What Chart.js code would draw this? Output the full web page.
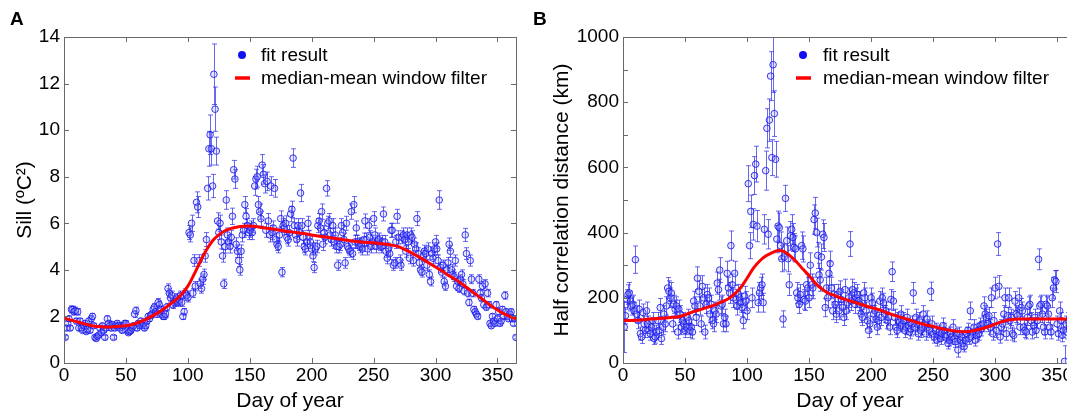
<!DOCTYPE html>
<html>
<head>
<meta charset="utf-8">
<script src="https://cdn.jsdelivr.net/npm/chart.js@4.4.0/dist/chart.umd.min.js"></script>
<style>
  html, body { margin: 0; padding: 0; background: #fff; overflow: hidden; width: 1067px; height: 412px; }
  .panel { position: absolute; top: 0; height: 412px; }
  #panelA { left: 0; width: 530px; }
  #panelB { left: 530px; width: 560px; }
  .tag { position: absolute; top: 8px; font: bold 19px "Liberation Sans", Arial, sans-serif; color: #000; }
</style>
</head>
<body>
<div class="panel" id="panelA"><canvas id="chartA" width="530" height="412"></canvas></div>
<div class="panel" id="panelB"><canvas id="chartB" width="560" height="412"></canvas></div>
<div class="tag" style="left:10px">A</div>
<div class="tag" style="left:533px">B</div>
<script>
// Panel A: sill (°C²), one fit per day of year (day 1..365)
const sillA = [
  1.1,1.5,1.7,1.9,1.5,2.3,2.3,2.2,2.25,1.8,
  2.2,1.5,1.8,1.5,1.4,1.6,1.7,1.35,1.45,1.8,
  1.4,1.9,2.0,1.6,1.1,1.05,1.15,1.2,1.5,1.3,
  1.6,1.4,1.1,1.5,1.9,1.7,1.6,1.5,1.65,1.1,
  1.5,1.6,1.7,1.6,1.5,1.6,1.4,1.6,1.7,1.7,
  1.4,1.3,1.35,1.4,1.5,1.6,2.1,2.25,1.5,1.7,
  1.6,1.8,1.6,1.7,1.5,1.6,1.8,2.0,1.9,2.05,
  2.1,2.3,2.4,2.2,2.1,2.6,2.5,2.3,2.1,2.0,
  2.0,2.1,2.4,3.2,3.0,2.8,2.9,2.5,2.6,2.7,
  2.8,2.6,2.7,2.9,2.6,2.0,2.2,3.0,2.9,2.8,
  5.6,5.5,6.0,3.0,4.4,3.3,6.9,6.7,4.4,3.4,
  3.2,3.6,3.8,4.6,5.3,7.5,9.2,9.8,9.2,7.6,
  12.4,10.9,9.1,6.1,5.6,6.0,5.2,4.6,3.4,5.0,
  7.0,5.5,5.2,5.0,5.4,6.3,8.3,7.9,5.1,4.8,
  4.4,4.0,4.8,5.5,5.7,6.8,6.3,5.9,5.6,5.7,
  5.8,5.6,5.9,7.6,7.9,8.0,6.8,6.5,6.2,8.5,
  8.1,7.7,5.7,7.8,6.1,5.5,7.6,5.6,5.8,7.5,
  5.3,5.1,5.0,5.5,6.2,3.9,5.9,5.8,6.0,5.4,
  5.3,5.6,6.4,6.6,8.8,5.9,5.5,5.3,5.9,5.6,
  7.3,5.9,5.4,5.0,4.9,5.2,6.0,5.4,5.2,4.9,
  4.6,4.1,4.9,5.0,5.9,6.1,5.8,6.5,5.1,5.6,
  5.4,7.5,6.0,6.1,5.5,5.3,5.9,5.2,5.5,5.0,
  4.2,5.0,5.1,5.9,5.6,5.3,4.3,6.0,5.0,4.9,
  4.8,6.5,4.7,6.8,5.2,5.8,5.2,5.1,5.0,5.1,
  4.9,5.3,6.1,5.3,4.9,5.9,5.4,5.0,5.2,6.2,
  5.5,5.0,5.2,5.3,5.1,5.0,5.2,6.4,5.2,4.8,
  4.5,4.9,4.7,5.7,5.7,4.2,4.3,5.2,6.3,5.4,
  4.4,4.2,5.4,5.5,5.3,4.8,5.5,5.2,4.5,5.5,
  5.4,4.4,5.1,4.9,6.2,4.7,4.3,4.0,3.9,4.6,
  4.8,4.7,4.2,4.9,3.8,3.5,4.7,4.5,4.9,5.2,
  4.9,4.4,7.0,4.1,3.9,4.2,3.5,3.3,4.0,4.3,
  5.1,4.8,4.0,3.8,3.7,4.4,3.3,3.5,3.2,3.6,
  3.8,3.4,3.1,5.5,4.7,3.0,2.6,4.4,3.6,3.0,
  2.3,2.2,2.1,2.0,3.6,3.0,2.8,3.3,2.5,3.4,
  2.4,3.0,2.5,1.7,1.6,2.0,1.8,1.7,2.5,1.9,
  2.2,1.7,1.8,2.3,2.0,2.9,2.2,2.0,1.9,2.1,
  2.2,1.9,1.7,1.9,1.1
];
const sillErrA = [
  .08,.1,.1,.12,.1,.15,.14,.14,.15,.12,
  .14,.1,.12,.1,.09,.1,.11,.09,.1,.12,
  .09,.12,.13,.1,.08,.07,.08,.08,.1,.09,
  .1,.09,.08,.1,.12,.11,.1,.1,.11,.08,
  .1,.1,.11,.1,.1,.1,.09,.1,.11,.11,
  .09,.09,.09,.09,.1,.1,.14,.15,.1,.11,
  .1,.12,.1,.11,.1,.1,.12,.13,.12,.13,
  .14,.15,.16,.14,.14,.17,.16,.15,.14,.13,
  .13,.14,.16,.2,.19,.18,.19,.16,.17,.18,
  .18,.17,.18,.19,.17,.13,.14,.19,.19,.18,
  .3,.3,.35,.19,.25,.2,.45,.45,.25,.2,
  .2,.22,.23,.27,.3,.5,.75,.85,.7,.5,
  1.3,.95,.6,.35,.3,.35,.3,.27,.2,.28,
  .4,.3,.28,.28,.3,.35,.4,.4,.28,.27,
  .25,.23,.27,.3,.3,.35,.33,.3,.3,.3,
  .3,.3,.3,.4,.42,.45,.35,.33,.32,.45,
  .42,.4,.3,.4,.32,.3,.4,.3,.3,.38,
  .28,.27,.27,.3,.33,.2,.3,.3,.32,.28,
  .28,.3,.33,.35,.4,.3,.3,.28,.3,.3,
  .37,.3,.28,.27,.26,.28,.3,.28,.28,.26,
  .25,.22,.26,.27,.3,.32,.3,.33,.27,.3,
  .28,.33,.3,.32,.3,.28,.3,.28,.3,.27,
  .22,.27,.27,.3,.3,.28,.23,.3,.27,.26,
  .26,.33,.25,.35,.28,.3,.28,.27,.27,.27,
  .26,.28,.3,.28,.26,.3,.28,.27,.28,.3,
  .3,.27,.28,.28,.27,.27,.28,.3,.28,.26,
  .24,.26,.25,.3,.3,.22,.23,.28,.3,.28,
  .24,.22,.28,.3,.28,.26,.3,.28,.24,.3,
  .28,.24,.27,.26,.3,.25,.23,.22,.21,.25,
  .26,.25,.22,.26,.2,.19,.25,.24,.26,.28,
  .26,.24,.4,.22,.21,.22,.19,.18,.22,.23,
  .27,.26,.22,.2,.2,.24,.18,.19,.17,.19,
  .2,.18,.17,.28,.25,.16,.14,.24,.19,.16,
  .13,.12,.12,.11,.19,.16,.15,.18,.14,.18,
  .13,.16,.14,.1,.1,.11,.1,.1,.14,.11,
  .12,.1,.1,.13,.11,.16,.12,.11,.11,.12,
  .12,.11,.1,.11,.07
];

// Panel B: half correlation distance (km)
const distB = [
  110,145,195,210,215,190,175,180,160,317,
  150,130,165,90,80,155,120,100,160,120,
  100,90,110,130,75,80,95,130,100,170,
  75,110,150,120,175,230,220,200,215,120,
  180,165,175,95,165,150,110,130,120,100,
  110,140,130,100,110,95,190,175,140,260,
  220,175,120,235,200,95,180,210,200,150,
  180,130,120,160,150,245,225,285,175,180,
  120,140,120,275,230,215,360,240,200,275,
  195,175,210,200,185,170,130,205,190,160,
  550,360,465,200,425,575,610,420,185,215,
  230,240,185,410,590,720,395,745,880,630,
  915,765,625,380,420,415,360,320,135,325,
  505,375,320,240,390,410,385,355,350,215,
  200,180,210,360,350,195,190,240,230,200,
  300,240,230,440,460,400,330,270,255,325,
  395,385,170,230,200,275,305,230,160,210,
  180,150,210,160,220,195,170,140,225,160,
  185,200,365,190,225,215,180,200,210,190,
  180,150,140,215,200,160,130,100,120,200,
  185,150,160,135,110,130,190,140,200,185,
  150,160,130,140,110,195,280,190,140,110,
  100,130,125,150,120,130,100,110,140,115,
  95,105,120,215,110,140,120,90,130,100,
  110,150,120,90,135,110,100,220,120,90,
  80,100,70,85,95,75,90,115,100,80,
  85,60,70,90,80,110,75,65,85,40,
  90,70,80,60,50,70,90,100,75,160,
  80,95,110,70,85,100,90,115,105,120,
  175,150,140,120,145,110,200,90,130,230,
  100,365,235,80,110,120,150,200,90,145,
  200,130,140,90,85,190,150,145,200,110,
  170,160,110,100,95,140,175,180,130,95,
  115,140,100,130,318,175,180,150,110,95,
  180,175,150,110,95,200,230,255,250,120,
  90,160,130,85,100,5,120,95,130,110,
  155,120,90,140,110
];
const distErrB = [
  78,25,30,30,32,30,28,28,26,42,
  26,25,28,20,20,26,24,22,27,24,
  22,20,23,25,18,19,21,25,22,28,
  18,23,26,24,28,32,32,30,32,24,
  28,28,28,21,28,26,23,25,24,22,
  23,25,25,22,23,21,30,28,25,35,
  32,28,24,33,30,21,28,31,30,26,
  28,25,24,27,26,34,32,38,28,28,
  24,25,24,37,33,32,45,33,30,37,
  30,28,31,30,29,28,25,30,29,27,
  55,40,50,30,48,58,55,48,29,32,
  33,33,29,45,60,60,45,65,75,55,
  85,70,55,42,46,45,42,40,25,40,
  40,42,40,33,44,45,43,42,40,32,
  30,28,31,42,40,30,29,33,33,30,
  38,33,33,45,48,44,40,36,35,40,
  44,43,28,33,30,36,38,33,27,31,
  28,26,31,27,32,30,28,25,32,27,
  29,30,38,29,32,32,28,30,31,29,
  28,26,25,32,30,27,25,22,24,30,
  29,26,27,25,23,25,29,25,30,29,
  26,27,25,25,23,30,30,29,25,23,
  22,25,25,26,24,25,22,23,25,23,
  21,22,24,32,23,25,24,20,25,22,
  23,26,24,20,25,23,22,28,24,20,
  19,22,18,20,21,18,20,23,22,19,
  20,17,18,20,19,23,18,17,20,22,
  20,18,19,17,16,18,20,22,18,27,
  19,21,23,18,20,22,20,23,22,24,
  28,26,25,24,26,23,30,20,25,33,
  22,35,33,19,23,24,26,30,20,26,
  30,25,25,20,20,29,26,26,30,23,
  28,27,23,22,21,25,28,28,25,21,
  23,25,22,25,32,28,28,26,23,21,
  28,28,26,23,21,30,33,28,34,24,
  20,27,25,20,22,48,24,21,25,23,
  26,24,20,25,23
];

// median-mean window filter, read every 5 days
const filterDays = [
  0,5,10,15,20,25,30,35,40,45,50,55,60,65,70,75,80,85,90,95,
  100,105,110,115,120,125,130,135,140,145,150,155,160,165,170,175,180,185,190,195,
  200,205,210,215,220,225,230,235,240,245,250,255,260,265,270,275,280,285,290,295,
  300,305,310,315,320,325,330,335,340,345,350,355,360,365
];
const filterA = [
  1.92,1.85,1.78,1.7,1.63,1.58,1.56,1.55,1.56,1.58,1.6,1.65,1.74,1.84,1.98,2.13,2.3,2.5,2.7,2.95,
  3.3,3.8,4.35,4.85,5.25,5.5,5.68,5.78,5.84,5.87,5.88,5.86,5.82,5.78,5.74,5.7,5.65,5.62,5.58,5.55,
  5.5,5.45,5.42,5.38,5.34,5.3,5.26,5.23,5.2,5.18,5.16,5.13,5.1,5.06,5.0,4.88,4.75,4.6,4.45,4.28,
  4.12,3.96,3.78,3.62,3.45,3.25,3.05,2.85,2.65,2.45,2.28,2.12,2.0,1.9
];
const filterB = [
  130,130,131,132,134,136,137,138,140,142,148,155,161,167,173,180,188,197,212,232,
  260,290,312,328,338,345,342,328,310,288,268,245,228,215,208,200,194,188,182,176,
  170,165,158,151,145,139,133,127,121,116,112,107,103,99,97,96,97,101,106,112,
  119,126,131,134,135,135,135,135,135,135,135,135,134,133
];

const xTickValues = [0, 50, 100, 150, 200, 250, 300, 350];
const yTicksA = { min: 0, max: 14, step: 2, label: 2 };
const yTicksB = { min: 0, max: 1000, step: 100, label: 200 };

const FONT = '"Liberation Sans", Arial, Helvetica, sans-serif';
const BLUE = 'rgba(25,25,235,0.85)';

// vertical error bars with small caps, under the markers
const errorBars = {
  id: 'errorBars',
  beforeDatasetsDraw(chart) {
    const ds = chart.data.datasets.find((d) => d.errors);
    const { ctx, chartArea: a, scales: { x, y } } = chart;
    ctx.save();
    ctx.beginPath();
    ctx.rect(a.left, a.top, a.right - a.left, a.bottom - a.top);
    ctx.clip();
    ctx.strokeStyle = 'rgba(40,40,235,0.7)';
    ctx.lineWidth = 1;
    ctx.beginPath();
    ds.data.forEach((p, i) => {
      const e = ds.errors[i];
      const px = Math.round(x.getPixelForValue(p.x)) + 0.5;
      const y1 = y.getPixelForValue(p.y - e);
      const y2 = y.getPixelForValue(p.y + e);
      ctx.moveTo(px, y1); ctx.lineTo(px, y2);
      ctx.moveTo(px - 2.5, y1); ctx.lineTo(px + 2.5, y1);
      ctx.moveTo(px - 2.5, y2); ctx.lineTo(px + 2.5, y2);
    });
    ctx.stroke();
    ctx.restore();
  },
};

// box round the plot with inward tick marks on all sides
const frameTicks = {
  id: 'frameTicks',
  afterDatasetsDraw(chart) {
    const { ctx, chartArea: a, scales: { x, y } } = chart;
    ctx.save();
    ctx.strokeStyle = '#6a6a6a';
    ctx.lineWidth = 1;
    ctx.strokeRect(Math.round(a.left) + 0.5, Math.round(a.top) + 0.5,
      Math.round(a.right - a.left), Math.round(a.bottom - a.top));
    ctx.beginPath();
    x.ticks.forEach((t) => {
      const px = Math.round(x.getPixelForValue(t.value)) + 0.5;
      ctx.moveTo(px, a.bottom); ctx.lineTo(px, a.bottom - 5);
      ctx.moveTo(px, a.top); ctx.lineTo(px, a.top + 5);
    });
    y.ticks.forEach((t) => {
      const py = Math.round(y.getPixelForValue(t.value)) + 0.5;
      ctx.moveTo(a.left, py); ctx.lineTo(a.left + 5, py);
      ctx.moveTo(a.right, py); ctx.lineTo(a.right - 5, py);
    });
    ctx.stroke();
    ctx.restore();
  },
};

// legend inside the plot, near the top
const insideLegend = {
  id: 'insideLegend',
  afterDraw(chart, args, opts) {
    const { ctx, chartArea: a } = chart;
    const x0 = a.left + opts.dx;
    ctx.save();
    ctx.fillStyle = '#1010f0';
    ctx.beginPath();
    ctx.arc(x0 + 6, 55, 4, 0, Math.PI * 2);
    ctx.fill();
    ctx.strokeStyle = '#ff0000';
    ctx.lineWidth = 3.5;
    ctx.beginPath();
    ctx.moveTo(x0 - 1, 78); ctx.lineTo(x0 + 14, 78);
    ctx.stroke();
    ctx.fillStyle = '#000';
    ctx.font = '19px ' + FONT;
    ctx.textAlign = 'left';
    ctx.textBaseline = 'middle';
    ctx.fillText('fit result', x0 + opts.textDx, 56);
    ctx.fillText('median-mean window filter', x0 + opts.textDx, 79);
    ctx.restore();
  },
};

function makePanel(canvasId, p) {
  const days = p.values.map((_, i) => i + 1);
  const points = days.map((d, i) => ({ x: d, y: p.values[i] }));
  const curve = filterDays.map((d, i) => ({ x: d, y: p.filter[i] }));
  const tickFont = { family: FONT, size: 19 };
  const titleFont = { family: FONT, size: 21, lineHeight: 1.2 };

  new Chart(document.getElementById(canvasId), {
    type: 'scatter',
    data: {
      datasets: [
        {
          type: 'line',
          data: curve,
          borderColor: '#ff0000',
          borderWidth: 3,
          pointRadius: 0,
          cubicInterpolationMode: 'monotone',
          order: 0,
        },
        {
          data: points,
          errors: p.errors,
          pointRadius: 3.3,
          pointBorderWidth: 1,
          pointBorderColor: BLUE,
          pointBackgroundColor: 'rgba(150,150,255,0.25)',
          order: 1,
        },
      ],
    },
    options: {
      responsive: false,
      animation: false,
      events: [],
      layout: { padding: { left: 0, top: 37, right: p.padRight, bottom: 0 } },
      plugins: {
        legend: { display: false },
        tooltip: { enabled: false },
        insideLegend: { dx: p.legendDx, textDx: p.legendTextDx },
      },
      scales: {
        x: {
          type: 'linear',
          min: 0,
          max: p.xMax,
          afterBuildTicks(s) { s.ticks = xTickValues.map((v) => ({ value: v })); },
          afterFit(s) { s.height = 49; },
          ticks: { font: tickFont, color: '#000', padding: 1, maxRotation: 0, autoSkip: false },
          grid: { display: false, drawTicks: false },
          border: { display: false },
          title: { display: true, text: 'Day of year', color: '#000', font: { family: FONT, size: 21, lineHeight: 1 }, padding: { top: 0, bottom: 0 } },
        },
        y: {
          min: p.yTicks.min,
          max: p.yTicks.max,
          afterFit(s) { s.width = p.leftWidth; },
          ticks: {
            stepSize: p.yTicks.step,
            font: tickFont,
            color: '#000',
            padding: 4,
            callback: (v) => (v % p.yTicks.label === 0 ? v : ''),
          },
          grid: { display: false, drawTicks: false },
          border: { display: false },
          title: { display: true, text: p.yTitle, color: '#000', font: titleFont, padding: { top: p.titlePad, bottom: 0 } },
        },
      },
    },
    plugins: [errorBars, frameTicks, insideLegend],
  });
}

makePanel('chartA', {
  values: sillA, errors: sillErrA, filter: filterA,
  yTicks: yTicksA, yTitle: 'Sill (\u00BAC\u00B2)',
  xMax: 365, leftWidth: 64, padRight: 14, titlePad: 13,
  legendDx: 172, legendTextDx: 25,
});
makePanel('chartB', {
  values: distB, errors: distErrB, filter: filterB,
  yTicks: yTicksB, yTitle: 'Half correlation distance (km)',
  xMax: 366, leftWidth: 93, padRight: 13, titlePad: 20,
  legendDx: 174, legendTextDx: 26,
});
</script>
</body>
</html>
